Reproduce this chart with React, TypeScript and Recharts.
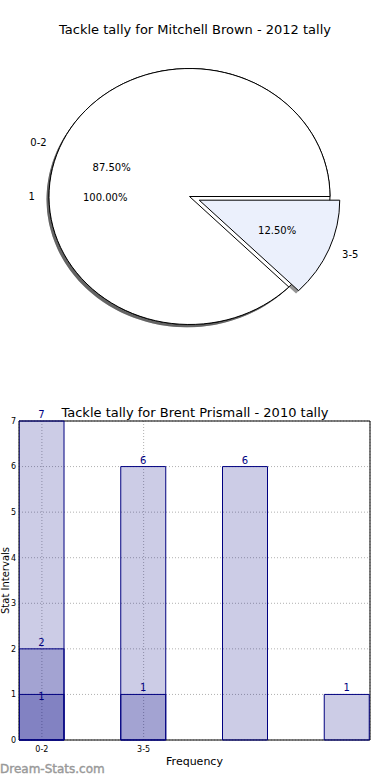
import React from 'react';
import {
  PieChart,
  Pie,
  BarChart,
  Bar,
  XAxis,
  YAxis,
  CartesianGrid,
  LabelList,
  ReferenceArea,
} from 'recharts';

// ---------- data ----------
const pieTitle = 'Tackle tally for Mitchell Brown - 2012 tally';
const barTitle = 'Tackle tally for Brent Prismall - 2010 tally';

const outerPieNames = ['1'];
const outerPieValues = [1];
const innerPieNames = ['0-2', '3-5'];
const innerPieValues = [7, 1];
const explodedSlice = '3-5';

const barPositions = [0, 1, 2, 3];
const xTickLabels = ['0-2', '3-5'];
const yTicks = [0, 1, 2, 3, 4, 5, 6, 7];
const seriesA: (number | null)[] = [7, 6, 6, 1];
const seriesB: (number | null)[] = [2, 1, null, null];
const seriesC: (number | null)[] = [1, null, null, null];

const watermark = 'Dream-Stats.com';

// ---------- styling ----------
const FONT = '"DejaVu Sans", Verdana, sans-serif';
const NAVY = '#000080';
const PIE_CX = 189.5;
const PIE_CY = 196.5;
const PIE_R = 140.5;
const Y_SCALE = 128 / 140.5;
const EXPLODE = 0.075;
const innerColors: Record<string, string> = { '0-2': '#ffffff', '3-5': '#ebf0fc' };

const outerPieData = outerPieNames.map((name, i) => ({ name, value: outerPieValues[i] }));
const innerPieData = innerPieNames.map((name, i) => ({ name, value: innerPieValues[i] }));
const barData = barPositions.map((x, i) => ({ x, a: seriesA[i], b: seriesB[i], c: seriesC[i] }));

const RAD = Math.PI / 180;

function wedgePath(cx: number, cy: number, rx: number, ry: number, s: number, e: number) {
  if (e - s >= 359.99) {
    return `M ${cx + rx} ${cy} A ${rx} ${ry} 0 1 0 ${cx - rx} ${cy} A ${rx} ${ry} 0 1 0 ${cx + rx} ${cy} Z`;
  }
  const x1 = cx + rx * Math.cos(s * RAD);
  const y1 = cy - ry * Math.sin(s * RAD);
  const x2 = cx + rx * Math.cos(e * RAD);
  const y2 = cy - ry * Math.sin(e * RAD);
  const large = e - s > 180 ? 1 : 0;
  return `M ${cx} ${cy} L ${x1} ${y1} A ${rx} ${ry} 0 ${large} 0 ${x2} ${y2} Z`;
}

function geom(props: any) {
  const s = Math.min(props.startAngle, props.endAngle);
  const e = Math.max(props.startAngle, props.endAngle);
  const mid = (s + e) / 2;
  const rx = props.outerRadius;
  const ry = props.outerRadius * Y_SCALE;
  const name = props.payload?.name ?? props.name;
  const ex = name === explodedSlice ? EXPLODE : 0;
  const cx = props.cx + ex * rx * Math.cos(mid * RAD);
  const cy = props.cy - ex * ry * Math.sin(mid * RAD);
  return { s, e, mid, rx, ry, cx, cy, ex, name };
}

const makeWedge = (colorOf: (n: string) => string) => (props: any) => {
  const g = geom(props);
  return (
    <path
      d={wedgePath(g.cx, g.cy, g.rx, g.ry, g.s, g.e)}
      fill={colorOf(g.name)}
      stroke="#000"
      strokeWidth={1}
    />
  );
};

const shadowShape = (props: any) => {
  const g = geom(props);
  return (
    <path
      d={wedgePath(g.cx - 2.5, g.cy + 2.8, g.rx, g.ry, g.s, g.e)}
      fill="#3d3d3d"
      fillOpacity={0.55}
      stroke="none"
    />
  );
};

const emptyShape = () => <g />;

const pieLabel = (props: any) => {
  const { cx, cy, outerRadius, percent } = props;
  const g = geom(props);
  const rx = outerRadius;
  const ry = outerRadius * Y_SCALE;
  const c = Math.cos(g.mid * RAD);
  const sn = Math.sin(g.mid * RAD);
  const lr = 1.1 + g.ex;
  const pr = 0.6 + g.ex;
  const lx = cx + lr * rx * c;
  const ly = cy - lr * ry * sn;
  const px = cx + pr * rx * c;
  const py = cy - pr * ry * sn;
  return (
    <g>
      <text
        x={lx}
        y={ly}
        textAnchor={c > 0 ? 'start' : 'end'}
        dominantBaseline="central"
        fontFamily={FONT}
        fontSize={10}
        fill="#000"
      >
        {g.name}
      </text>
      <text
        x={px}
        y={py + 0.5}
        textAnchor="middle"
        dominantBaseline="central"
        fontFamily={FONT}
        fontSize={10}
        fill="#000"
      >
        {(percent * 100).toFixed(2) + '%'}
      </text>
    </g>
  );
};

const fmt = (v: any) => (v === null || v === undefined ? '' : String(v));

const YLabel = (props: any) => {
  const vb = props.viewBox || {};
  const x = 5.5;
  const y = (vb.y ?? 0) + (vb.height ?? 0) / 2;
  return (
    <text
      x={x}
      y={y}
      transform={`rotate(-90, ${x}, ${y})`}
      textAnchor="middle"
      dominantBaseline="central"
      fontFamily={FONT}
      fontSize={10}
      fill="#000"
    >
      Stat Intervals
    </text>
  );
};

export default function App() {
  const tickStyle = { fontFamily: FONT, fontSize: 8, fill: '#000' };
  return (
    <div
      style={{
        position: 'absolute',
        left: 0,
        top: 0,
        width: 390,
        height: 780,
        background: '#fff',
        overflow: 'hidden',
        fontFamily: FONT,
      }}
    >
      <div
        style={{
          position: 'absolute',
          left: 0,
          top: 22,
          width: 390,
          textAlign: 'center',
          fontSize: 13,
          color: '#000',
          lineHeight: '16px',
        }}
      >
        {pieTitle}
      </div>
      <div style={{ position: 'absolute', left: 0, top: 0 }}>
        <PieChart width={390} height={380} margin={{ top: 0, right: 0, bottom: 0, left: 0 }}>
          <Pie
            data={outerPieData}
            dataKey="value"
            nameKey="name"
            cx={PIE_CX}
            cy={PIE_CY}
            outerRadius={PIE_R}
            startAngle={0}
            endAngle={360}
            isAnimationActive={false}
            shape={shadowShape}
            stroke="none"
            label={false}
          />
          <Pie
            data={innerPieData}
            dataKey="value"
            nameKey="name"
            cx={PIE_CX}
            cy={PIE_CY}
            outerRadius={PIE_R}
            startAngle={0}
            endAngle={360}
            isAnimationActive={false}
            shape={shadowShape}
            stroke="none"
            label={false}
          />
          <Pie
            data={outerPieData}
            dataKey="value"
            nameKey="name"
            cx={PIE_CX}
            cy={PIE_CY}
            outerRadius={PIE_R}
            startAngle={0}
            endAngle={360}
            isAnimationActive={false}
            shape={makeWedge(() => '#ffffff')}
            label={false}
          />
          <Pie
            data={innerPieData}
            dataKey="value"
            nameKey="name"
            cx={PIE_CX}
            cy={PIE_CY}
            outerRadius={PIE_R}
            startAngle={0}
            endAngle={360}
            isAnimationActive={false}
            shape={makeWedge((n) => innerColors[n] || '#fff')}
            label={false}
          />
          <Pie
            data={outerPieData}
            dataKey="value"
            nameKey="name"
            cx={PIE_CX}
            cy={PIE_CY}
            outerRadius={PIE_R}
            startAngle={0}
            endAngle={360}
            isAnimationActive={false}
            shape={emptyShape}
            fill="none"
            stroke="none"
            label={pieLabel}
            labelLine={false}
          />
          <Pie
            data={innerPieData}
            dataKey="value"
            nameKey="name"
            cx={PIE_CX}
            cy={PIE_CY}
            outerRadius={PIE_R}
            startAngle={0}
            endAngle={360}
            isAnimationActive={false}
            shape={emptyShape}
            fill="none"
            stroke="none"
            label={pieLabel}
            labelLine={false}
          />
        </PieChart>
      </div>

      <div
        style={{
          position: 'absolute',
          left: 0,
          top: 405,
          width: 390,
          textAlign: 'center',
          fontSize: 13,
          color: '#000',
          lineHeight: '16px',
        }}
      >
        {barTitle}
      </div>
      <div style={{ position: 'absolute', left: 0, top: 395 }}>
        <BarChart
          width={390}
          height={385}
          data={barData}
          margin={{ top: 26, right: 20, bottom: 10, left: 0 }}
        >
          <CartesianGrid
            xAxisId="a"
            stroke="#b0b0b0"
            strokeDasharray="1 2"
          />
          <XAxis
            xAxisId="a"
            type="number"
            dataKey="x"
            domain={[-0.225, 3.225]}
            allowDataOverflow
            ticks={[0, 1]}
            tickFormatter={(v: number) => xTickLabels[v] ?? ''}
            tick={tickStyle}
            tickLine={false}
            tickSize={3}
            tickMargin={3}
            axisLine={false}
            height={30}
            label={{
              value: 'Frequency',
              position: 'insideBottom',
              offset: 5,
              fontFamily: FONT,
              fontSize: 11,
              fill: '#000',
            }}
          />
          <XAxis xAxisId="b" type="number" dataKey="x" domain={[-0.225, 3.225]} allowDataOverflow hide />
          <XAxis xAxisId="c" type="number" dataKey="x" domain={[-0.225, 3.225]} allowDataOverflow hide />
          <YAxis
            domain={[0, 7]}
            ticks={yTicks}
            interval={0}
            width={19}
            tick={tickStyle}
            tickLine={false}
            tickSize={3}
            tickMargin={0}
            axisLine={false}
            label={<YLabel />}
          />
          <Bar
            xAxisId="a"
            dataKey="a"
            barSize={45}
            fill={NAVY}
            fillOpacity={0.2}
            stroke={NAVY}
            strokeWidth={1}
            isAnimationActive={false}
          >
            <LabelList dataKey="a" position="top" offset={3} formatter={fmt} fill={NAVY} fontSize={10} fontFamily={FONT} />
          </Bar>
          <Bar
            xAxisId="b"
            dataKey="b"
            barSize={45}
            fill={NAVY}
            fillOpacity={0.2}
            stroke={NAVY}
            strokeWidth={1}
            isAnimationActive={false}
          >
            <LabelList dataKey="b" position="top" offset={3} formatter={fmt} fill={NAVY} fontSize={10} fontFamily={FONT} />
          </Bar>
          <Bar
            xAxisId="c"
            dataKey="c"
            barSize={45}
            fill={NAVY}
            fillOpacity={0.2}
            stroke={NAVY}
            strokeWidth={1}
            isAnimationActive={false}
          >
            <LabelList dataKey="c" position="top" offset={-6} formatter={fmt} fill={NAVY} fontSize={10} fontFamily={FONT} />
          </Bar>
          <ReferenceArea
            xAxisId="a"
            x1={-0.225}
            x2={3.225}
            y1={0}
            y2={7}
            fill="none"
            fillOpacity={0}
            stroke="#000"
            strokeWidth={1}
            ifOverflow="visible"
          />
        </BarChart>
      </div>

      <div
        style={{
          position: 'absolute',
          left: 0,
          top: 762,
          fontSize: 12,
          fontWeight: 'normal',
          color: '#999999',
          lineHeight: '14px',
          WebkitTextStroke: '0.4px #999999',
        }}
      >
        {watermark}
      </div>
    </div>
  );
}
